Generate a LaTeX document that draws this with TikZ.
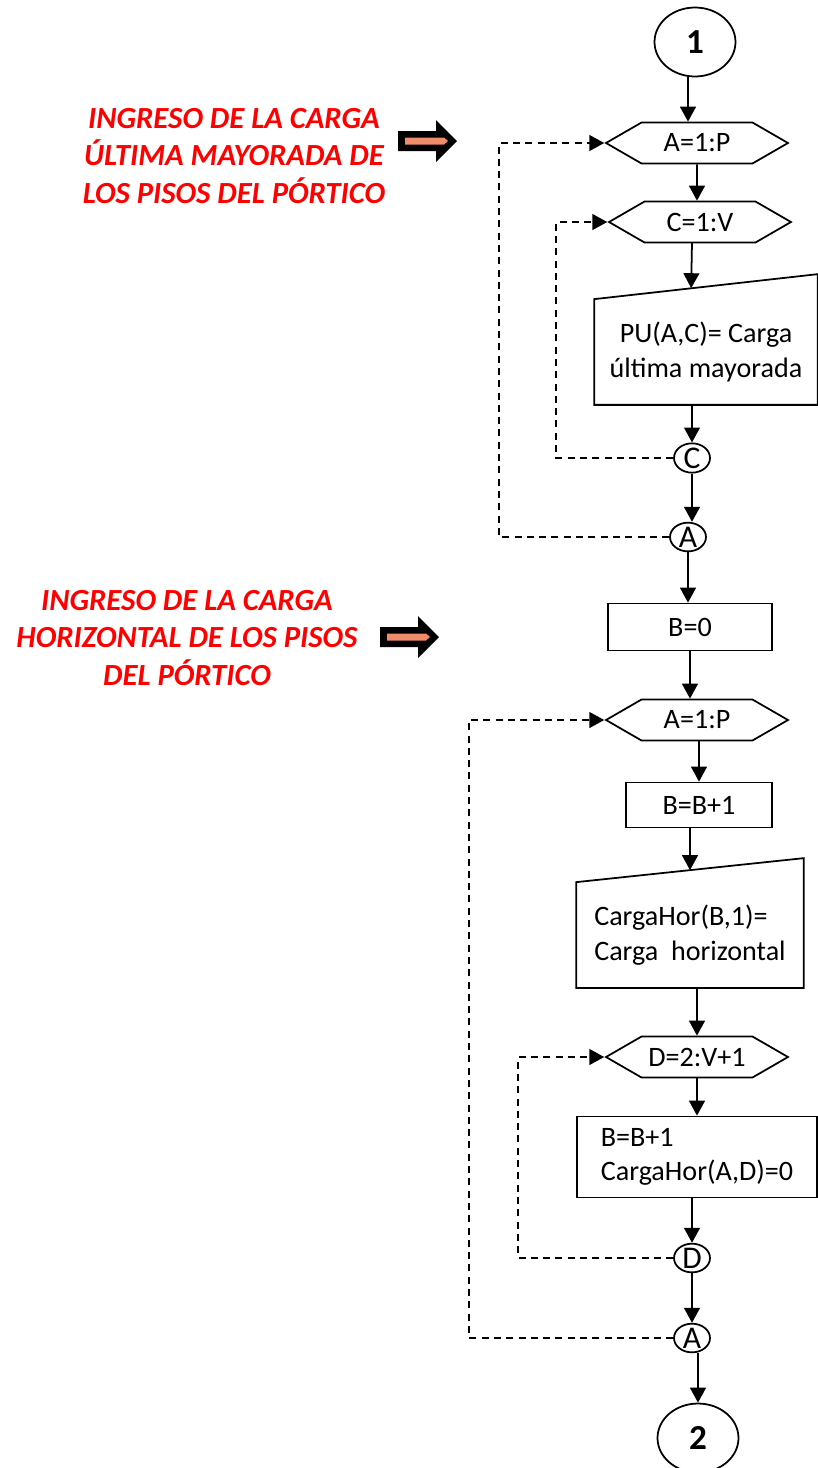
\documentclass[tikz,border=0pt]{standalone}
\usepackage{fontspec}
\setmainfont{Carlito}
\usepackage{tikz}
\usetikzlibrary{calc, shapes.symbols, shapes.geometric, arrows.meta}
\definecolor{salmon}{RGB}{240,140,105}
\tikzset{>={Triangle[length=8.5pt,width=9pt]}}
\tikzset{
hexa/.style={signal, signal to=west and east, signal pointer angle=60, draw,
  minimum width=3.64cm, minimum height=0.82cm, inner sep=0pt,
  font=\fontsize{16}{19.5}\selectfont},
caja/.style={rectangle, draw, inner sep=0pt, font=\fontsize{16}{19.5}\selectfont},
entrada/.style={rectangle, inner sep=0pt, align=center, font=\fontsize{16}{19.5}\selectfont},
circ/.style={ellipse, draw, minimum width=0.72cm, minimum height=0.52cm, inner sep=0pt,
  font=\fontsize{18}{19}\selectfont},
term/.style={ellipse, draw, minimum width=1.62cm, minimum height=1.38cm, inner sep=0pt,
  font=\fontsize{20}{24}\selectfont\bfseries},
lazo/.style={->, dash pattern=on 4pt off 3pt},
ingreso/.style={align=center, text=red, font=\fontsize{17.5}{21.6}\selectfont\bfseries\itshape},
flechota/.pic={
  \fill[black] (0,-10) -- (38,-10) -- (38,-21) -- (59,0) -- (38,21) -- (38,10) -- (0,10) -- cycle;
  \fill[salmon] (7,-3.5) -- (46,-3.5) -- (50,0) -- (46,3.5) -- (7,3.5) -- cycle;
}
}
\begin{document}
\begin{tikzpicture}[x=0.02cm, y=-0.02cm, line width=1pt]
\useasboundingbox (0,0) rectangle (818,1468);

% primer bloque: carga ultima
\node[term] (t1) at (695,42) {1};
\node[hexa] (hA1) at (697,143) {A=1:P};
\node[hexa] (hC) at (700,222) {C=1:V};
\node[entrada, minimum width=4.44cm, minimum height=2.08cm] (pu) at (706,352)
  {PU(A,C)= Carga\\última mayorada};
\draw (pu.south west) -- (pu.south east) -- ([yshift=0.5cm]pu.north east) -- (pu.north west) -- cycle;
\coordinate (pu-in) at ([xshift=1.94cm, yshift=0.22cm]pu.north west);
\coordinate (pu-top) at (692,243);
\node[circ] (cC) at (692,458) {C};
\node[circ] (cA1) at (688,537) {A};

\draw[->] (t1.south -| cA1) -- (cA1 |- hA1.north);
\draw[->] (hA1) -- (hA1 |- hC.north);
\draw[->] (pu-top) -- (pu-in);
\draw[->] (pu.south -| cC) -- (cC.north);
\draw[->] (cC) -- (cC |- cA1.north);
\draw[lazo] (cC.west) -- ++(-117,0) |- (hC.west);
\draw[lazo] (cA1.west) -- ++(-170,0) |- (hA1.west);

\node[ingreso] (txt1) at (234,156) {INGRESO DE LA CARGA\\ÚLTIMA MAYORADA DE\\LOS PISOS DEL PÓRTICO};
\pic at (398,141) {flechota};

% segundo bloque: carga horizontal
\node[caja, minimum width=3.28cm, minimum height=0.94cm] (b0) at (690,627) {B=0};
\node[hexa] (hA2) at (697,720) {A=1:P};
\node[caja, minimum width=2.92cm, minimum height=0.9cm] (bb) at (699,805) {B=B+1};
\node[entrada, align=left, minimum width=4.52cm, minimum height=2.08cm] (ch) at (690,935)
  {CargaHor(B,1)=\\Carga~ horizontal};
\draw (ch.south west) -- (ch.south east) -- ([yshift=0.48cm]ch.north east) -- (ch.north west) -- cycle;
\coordinate (ch-in) at ($(ch.north west)!0.5!([yshift=0.48cm]ch.north east)$);
\node[hexa] (hD) at (697,1057) {D=2:V+1};
\node[caja, align=left, minimum width=4.8cm, minimum height=1.62cm] (bx) at (697,1157)
  {B=B+1\\CargaHor(A,D)=0};
\node[circ] (cD) at (692,1258) {D};
\node[circ] (cA2) at (692,1338) {A};
\node[term] (t2) at (698,1438) {2};

\draw[->] (cA1.south) -- (cA1 |- b0.north);
\draw[->] (b0.south) -- (b0 |- hA2.north);
\draw[->] (hA2.south -| bb) -- (bb.north);
\draw[->] (ch-in |- bb.south) -- (ch-in);
\draw[->] (ch.south -| hD) -- (hD.north);
\draw[->] (hD.south) -- (bx.north -| hD);
\draw[->] (bx.south -| cD) -- (cD.north);
\draw[->] (cD) -- (cD |- cA2.north);
\draw[->] (cA2.south -| t2) -- (t2.north);
\draw[lazo] (cD.west) -- ++(-155,0) |- (hD.west);
\draw[lazo] (cA2.west) -- ++(-204,0) |- (hA2.west);

\node[ingreso] (txt2) at (187,638) {INGRESO DE LA CARGA\\HORIZONTAL DE LOS PISOS\\DEL PÓRTICO};
\pic at (380,637) {flechota};
\end{tikzpicture}
\end{document}
